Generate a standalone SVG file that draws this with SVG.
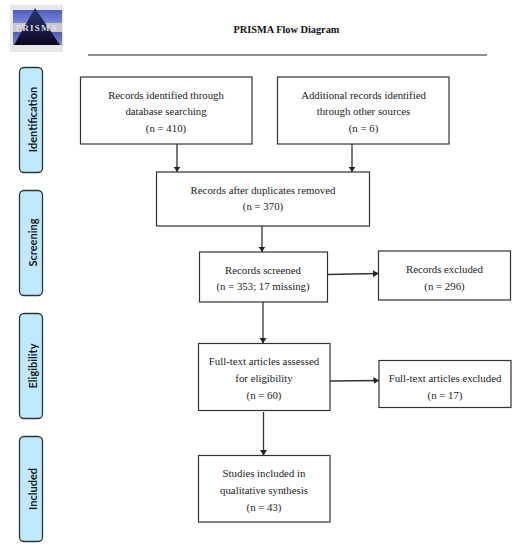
<svg xmlns="http://www.w3.org/2000/svg" width="520" height="550" viewBox="0 0 520 550">
<style>
text{font-family:"Liberation Serif",serif;font-size:10.8px;fill:#222;text-anchor:middle}
.t{font-weight:bold;font-size:10.3px;fill:#111}
.s{font-family:Lato,"Liberation Sans",sans-serif;font-weight:bold;font-size:11px;fill:#1a1a1a}
.b{fill:#fff;stroke:#333;stroke-width:1.2}
.p{fill:#bfe9fd;stroke:#333;stroke-width:1.3}
.c{stroke:#333;stroke-width:1.3;fill:none;marker-end:url(#a)}
</style>
<defs>
<marker id="a" markerUnits="userSpaceOnUse" markerWidth="6" markerHeight="7" refX="5.500" refY="3.500" orient="auto"><path d="M0 0L5.500 3.500L0 7Z" fill="#222"/></marker>
<linearGradient id="tri" x1="0" y1="0" x2="0" y2="1"><stop offset="0" stop-color="#2a3a70"/><stop offset="1" stop-color="#0c0620"/></linearGradient>
<linearGradient id="band" x1="0" y1="0" x2="0" y2="1"><stop offset="0" stop-color="#4c5cc0"/><stop offset="1" stop-color="#7a88d8"/></linearGradient>
</defs>
<g id="logo">
<rect x="10" y="5" width="53" height="47" fill="#e8e8e6"/>
<rect x="13" y="10" width="49" height="13" fill="url(#band)"/>
<rect x="13" y="32" width="49" height="13" fill="url(#band)"/>
<rect x="13" y="23" width="49" height="9" fill="#c8c8cc"/>
<path d="M35 8L60 45H14Z" fill="url(#tri)"/>
<text x="37" y="31" style="font-size:9px;letter-spacing:1.2px;fill:#ddd;font-weight:bold">PRISMA</text>
</g>
<g id="header">
<text class="t" x="286.500" y="33">PRISMA Flow Diagram</text>
<line x1="88" y1="55" x2="487" y2="55" stroke="#222" stroke-width="1"/>
</g>
<g id="connectors">
<line class="c" x1="177" y1="144" x2="177" y2="172"/>
<line class="c" x1="352" y1="144" x2="352" y2="172"/>
<line class="c" x1="262" y1="226" x2="262" y2="252"/>
<line class="c" x1="327.500" y1="274.500" x2="378.500" y2="273.500"/>
<line class="c" x1="263" y1="302" x2="263" y2="343.500"/>
<line class="c" x1="330" y1="381" x2="379" y2="380.500"/>
<line class="c" x1="263.500" y1="412" x2="263.500" y2="455.500"/>
</g>
<g id="phase-identification"><rect class="p" x="19.500" y="67.500" width="23" height="105" rx="4.500"/><text class="s" transform="translate(36.500 119.500) rotate(-90)">Identification</text></g>
<g id="phase-screening"><rect class="p" x="19.500" y="190.500" width="23" height="105" rx="4.500"/><text class="s" transform="translate(36.500 242.500) rotate(-90)">Screening</text></g>
<g id="phase-eligibility"><rect class="p" x="19.500" y="313.500" width="23" height="105" rx="4.500"/><text class="s" transform="translate(36.500 366) rotate(-90)">Eligibility</text></g>
<g id="phase-included"><rect class="p" x="19.500" y="436.500" width="23" height="105" rx="4.500"/><text class="s" transform="translate(36.500 489) rotate(-90)">Included</text></g>
<g id="n1"><rect class="b" x="80.500" y="77" width="171.500" height="67"/><text x="166" y="98.500">Records identified through</text><text x="166" y="115">database searching</text><text x="166" y="132">(n = 410)</text></g>
<g id="n2"><rect class="b" x="277.500" y="77" width="171.500" height="67"/><text x="363.500" y="98.500">Additional records identified</text><text x="363.500" y="115">through other sources</text><text x="363.500" y="132">(n = 6)</text></g>
<g id="n3"><rect class="b" x="156.500" y="172" width="213" height="54"/><text x="263" y="193.500">Records after duplicates removed</text><text x="263" y="210">(n = 370)</text></g>
<g id="n4"><rect class="b" x="199.500" y="252" width="128" height="50"/><text x="263" y="273.500">Records screened</text><text x="263" y="290">(n = 353; 17 missing)</text></g>
<g id="n5"><rect class="b" x="378.500" y="251" width="132" height="49"/><text x="444.500" y="272.500">Records excluded</text><text x="444.500" y="289.500">(n = 296)</text></g>
<g id="n6"><rect class="b" x="198.500" y="343.500" width="131.500" height="67"/><text x="264" y="365">Full-text articles assessed</text><text x="264" y="381.500">for eligibility</text><text x="264" y="398.500">(n = 60)</text></g>
<g id="n7"><rect class="b" x="379" y="360.500" width="132" height="47"/><text x="445" y="381.500">Full-text articles excluded</text><text x="445" y="398.500">(n = 17)</text></g>
<g id="n8"><rect class="b" x="198.500" y="455.500" width="131.500" height="66.500"/><text x="264" y="477">Studies included in</text><text x="264" y="493.500">qualitative synthesis</text><text x="264" y="510.500">(n = 43)</text></g>
</svg>
